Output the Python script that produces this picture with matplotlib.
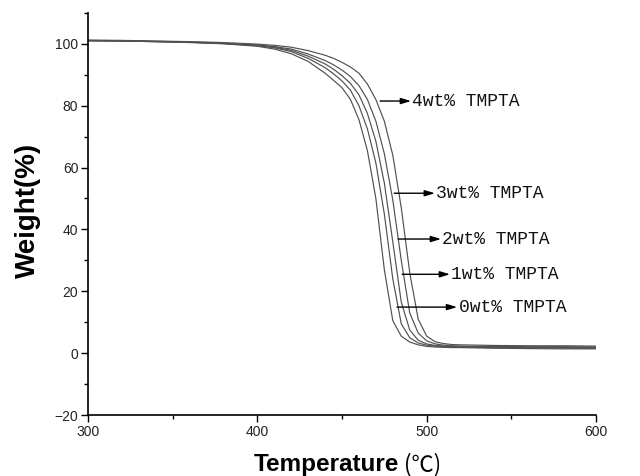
import matplotlib
matplotlib.use("Agg")
import matplotlib.pyplot as plt
from matplotlib.ticker import MultipleLocator

# TGA weight-loss curves of the composites (temperature in °C, weight in %)
temperature = [300, 320, 340, 360, 380, 400, 410, 420, 430, 440, 445, 450, 455,
               460, 465, 470, 475, 480, 485, 490, 495, 500, 505, 510, 515, 520,
               530, 540, 560, 580, 600]

weight_0wt = [101.0, 100.9, 100.7, 100.4, 100.0, 99.2, 98.3, 96.8, 94.3, 90.5, 88.2,
              85.8, 82.0, 75.5, 65.5, 50.0, 27.0, 10.5, 5.5, 3.6, 2.7, 2.2, 2.0, 1.9,
              1.8, 1.8, 1.7, 1.6, 1.5, 1.4, 1.4]
weight_1wt = [101.0, 100.9, 100.7, 100.5, 100.1, 99.4, 98.7, 97.5, 95.3, 92.3, 90.3,
              88.0, 85.0, 80.0, 72.5, 61.5, 45.0, 24.0, 9.5, 5.0, 3.3, 2.6, 2.3, 2.1,
              2.0, 2.0, 1.9, 1.8, 1.7, 1.7, 1.6]
weight_2wt = [101.0, 100.9, 100.7, 100.5, 100.1, 99.5, 98.9, 97.9, 96.0, 93.5, 91.8,
              89.7, 87.2, 83.5, 77.5, 68.5, 55.0, 36.0, 16.5, 7.5, 4.2, 3.0, 2.5, 2.3,
              2.2, 2.1, 2.0, 1.9, 1.9, 1.8, 1.8]
weight_3wt = [101.1, 101.0, 100.8, 100.6, 100.2, 99.6, 99.1, 98.3, 96.7, 94.6, 93.2,
              91.5, 89.4, 86.5, 82.0, 75.0, 64.5, 49.5, 30.0, 13.0, 6.5, 4.0, 3.0, 2.6,
              2.4, 2.3, 2.2, 2.2, 2.1, 2.1, 2.0]
weight_4wt = [101.2, 101.1, 100.9, 100.7, 100.4, 99.9, 99.5, 98.9, 97.8, 96.3, 95.3,
              94.0, 92.5, 90.5, 87.0, 82.0, 75.0, 64.0, 47.0, 26.0, 11.0, 5.5, 3.7, 3.1,
              2.8, 2.7, 2.6, 2.5, 2.4, 2.4, 2.3]

series = [weight_0wt, weight_1wt, weight_2wt, weight_3wt, weight_4wt]

# Annotation labels: text, arrow start (T, W), arrow tip (T, W)
labels = ["0wt% TMPTA", "1wt% TMPTA", "2wt% TMPTA", "3wt% TMPTA", "4wt% TMPTA"]
arrow_start = [(482.5, 14.9), (485.5, 25.5), (483.2, 36.9), (480.8, 51.7), (472.5, 81.5)]
arrow_tip = [(518.0, 14.9), (513.8, 25.5), (508.5, 36.9), (504.9, 51.7), (490.8, 81.5)]

xticks = [300, 400, 500, 600]
yticks = [-20, 0, 20, 40, 60, 80, 100]

fig = plt.figure(figsize=(6.4, 4.76), dpi=100)
ax = fig.add_axes([0.1375, 0.128, 0.79375, 0.845])

for w in series:
    ax.plot(temperature, w, color="#505050", linewidth=0.85)

for text, (x0, y0), (x1, y1) in zip(labels, arrow_start, arrow_tip):
    ax.annotate("", xy=(x1, y1), xytext=(x0, y0),
                arrowprops=dict(arrowstyle="-|>,head_length=0.6,head_width=0.18",
                                color="black", lw=1.0, shrinkA=0, shrinkB=0))
    ax.text(x1 + 0.8, y1, text, fontsize=13, family="Liberation Mono",
            va="center", ha="left", color="#111111")

ax.set_xlim(300, 600)
ax.set_ylim(-20, 110)
ax.set_xticks(xticks)
ax.set_yticks(yticks)
ax.xaxis.set_minor_locator(MultipleLocator(50))
ax.yaxis.set_minor_locator(MultipleLocator(10))
ax.tick_params(which="major", direction="out", length=5, width=1.0,
               labelsize=10, pad=2)
ax.tick_params(which="minor", direction="out", length=3, width=1.0)
for lab in ax.get_xticklabels() + ax.get_yticklabels():
    lab.set_family("Liberation Sans")
    lab.set_color("#222222")

for side in ("top", "right"):
    ax.spines[side].set_visible(False)
for side in ("left", "bottom"):
    ax.spines[side].set_linewidth(1.2)

ax.set_ylabel("Weight(%)", fontsize=20, fontweight="bold",
              family="Liberation Sans")
ax.yaxis.set_label_coords(-0.093, 0.51)

# x-axis title: bold Latin word followed by the unit in a CJK face
fig.text(254 / 640, 1 - 471 / 476, "Temperature", fontsize=17.5, fontweight="bold",
         family="Liberation Sans", ha="left", va="baseline")
fig.text(404 / 640, 1 - 471 / 476, "(℃)", fontsize=16,
         family=["Noto Sans CJK SC", "DejaVu Sans"], ha="left", va="baseline")

fig.savefig("out.png", dpi=100)
